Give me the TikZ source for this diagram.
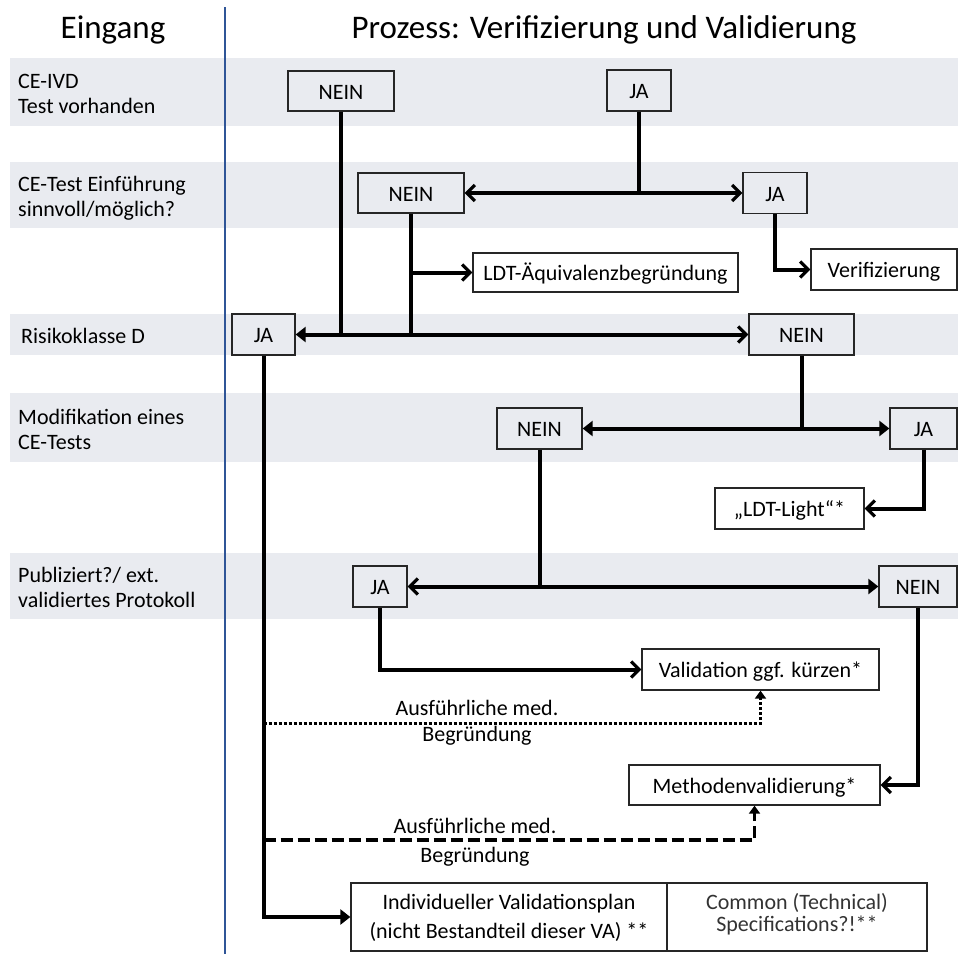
\documentclass[tikz,border=0pt]{standalone}
\usepackage{fontspec}
\setmainfont{Carlito}
\usetikzlibrary{arrows.meta}
\definecolor{bandgray}{RGB}{233,235,240}
\definecolor{sepblue}{RGB}{47,85,151}
\tikzset{
  txt/.style={font=\fontsize{22}{25}\selectfont, inner sep=0pt},
  rowlabel/.style={txt, anchor=west, align=left},
  boxbase/.style={draw=black!85, line width=1.3pt, inner sep=0pt, font=\fontsize{22}{25}\selectfont},
  oneline/.style={text height=16.5pt, text depth=0pt},
  dec/.style={boxbase, oneline},
  res/.style={boxbase, fill=white},
  conn/.style={line width=4pt},
  chev/.tip={Straight Barb[length=8pt,width=16pt,line width=3.2pt]},
  tri/.tip={Triangle[length=10pt,width=15pt]},
  dotline/.style={line width=3pt, dash pattern=on 3pt off 2pt},
  dashline/.style={line width=3.5pt, dash pattern=on 12pt off 5pt},
}
\begin{document}
\begin{tikzpicture}[x=1pt,y=-1pt]
\useasboundingbox (0,0) rectangle (958,954);
% bands
\fill[bandgray] (10,58) rectangle (958,126);
\fill[bandgray] (10,162) rectangle (958,228);
\fill[bandgray] (10,314) rectangle (958,355);
\fill[bandgray] (10,393) rectangle (958,462);
\fill[bandgray] (10,553) rectangle (958,619);
% separator
\draw[sepblue, line width=1.5pt] (225,7) -- (225,954);
% titles
\node[inner sep=0pt, font=\fontsize{33}{38}\selectfont] (tEin) at (113,30) {Eingang};
\node[inner sep=0pt, font=\fontsize{33}{38}\selectfont] (tPro) at (604,30) {Prozess: Verifizierung und Validierung};
% row labels
\node[rowlabel] (r1) at (18,94) {CE-IVD\\Test vorhanden};
\node[rowlabel] (r2) at (18,198) {CE-Test Einführung\\sinnvoll/möglich?};
\node[rowlabel] (r3) at (21,336) {Risikoklasse D};
\node[rowlabel] (r4) at (18,429) {Modifikation eines\\CE-Tests};
\node[rowlabel] (r5) at (18,587) {Publiziert?/ ext.\\validiertes Protokoll};
% boxes
\node[dec, minimum width=106pt, minimum height=40pt] (nein1) at (341,91) {NEIN};
\node[dec, minimum width=64pt, minimum height=41pt] (ja1) at (639,90.5) {JA};
\node[dec, minimum width=106pt, minimum height=40pt] (nein2) at (411,193) {NEIN};
\node[dec, minimum width=64pt, minimum height=41pt] (ja2) at (775,193) {JA};
\node[res, oneline, minimum width=265pt, minimum height=39pt] (ldta) at (605.5,272.5) {LDT-Äquivalenzbegründung};
\node[res, oneline, minimum width=146pt, minimum height=41pt] (verif) at (884,269.5) {Verifizierung};
\node[dec, minimum width=63pt, minimum height=41pt] (ja3) at (263.5,334.5) {JA};
\node[dec, minimum width=105pt, minimum height=41pt] (nein3) at (801.5,334.5) {NEIN};
\node[dec, minimum width=85pt, minimum height=41pt] (nein4) at (539.5,428.5) {NEIN};
\node[dec, minimum width=67pt, minimum height=41pt] (ja4) at (923.5,428.5) {JA};
\node[res, oneline, minimum width=149pt, minimum height=41pt] (ldtl) at (789.5,508.5) {„LDT-Light“*};
\node[dec, minimum width=54pt, minimum height=41pt] (ja5) at (380,586.5) {JA};
\node[dec, minimum width=78pt, minimum height=41pt] (nein5) at (918,586.5) {NEIN};
\node[res, oneline, minimum width=237pt, minimum height=41pt] (valid) at (760.5,669.5) {Validation ggf. kürzen*};
\node[res, oneline, minimum width=251pt, minimum height=40pt] (method) at (754.5,785) {Methodenvalidierung*};
\node[res, minimum width=316pt, minimum height=68pt, align=center, text height=47pt, text depth=5pt, font=\fontsize{22}{29}\selectfont] (indiv) at (509,917) {Individueller Validationsplan\\(nicht Bestandteil dieser VA) **};
\node[res, minimum width=260pt, minimum height=68pt, align=center, text=black!80, text depth=9.5pt, font=\fontsize{22}{22}\selectfont] (common) at (797,917) {Common (Technical)\\Specifications?!**};
% connectors
\draw[conn, tri-chev] (ja3.east) -- (nein3.west);
\draw[conn] (nein1.south) -- (nein1.south |- ja3.east);
\draw[conn] (nein2.south) -- (nein2.south |- ja3.east);
\draw[conn, -chev] (nein2.south |- ldta.west) -- (ldta.west);
\draw[conn, chev-chev] (nein2.east) -- (ja2.west);
\draw[conn] (ja1.south) -- (ja1.south |- ja2.west);
\draw[conn, -chev] (ja2.south) |- (verif.west);
\draw[conn, tri-tri] (nein4.east) -- (ja4.west);
\draw[conn] (nein3.south) -- (nein3.south |- nein4.east);
\draw[conn, -chev] (ja4.south) |- (ldtl.east);
\draw[conn, chev-tri] (ja5.east) -- (nein5.west);
\draw[conn] (nein4.south) -- (nein4.south |- ja5.east);
\draw[conn, -chev] (ja5.south) |- (valid.west);
\draw[conn, -chev] (nein5.south) |- (method.east);
\draw[conn, -tri] (ja3.south) |- (indiv.west);
% dotted and dashed
\coordinate (dotstart) at (263.5,723);
\coordinate (dashstart) at (263.5,840);
\draw[dotline, -{Triangle[length=8pt,width=11pt]}] (dotstart) -| (valid.south);
\draw[dashline, -{Triangle[length=8pt,width=11pt]}] (dashstart) -| (method.south);
\node[txt] (l1a) at (477,708) {Ausführliche med.};
\node[txt] (l1b) at (477,736) {Begründung};
\node[txt] (l2a) at (475,826) {Ausführliche med.};
\node[txt] (l2b) at (475,857) {Begründung};
\end{tikzpicture}
\end{document}
